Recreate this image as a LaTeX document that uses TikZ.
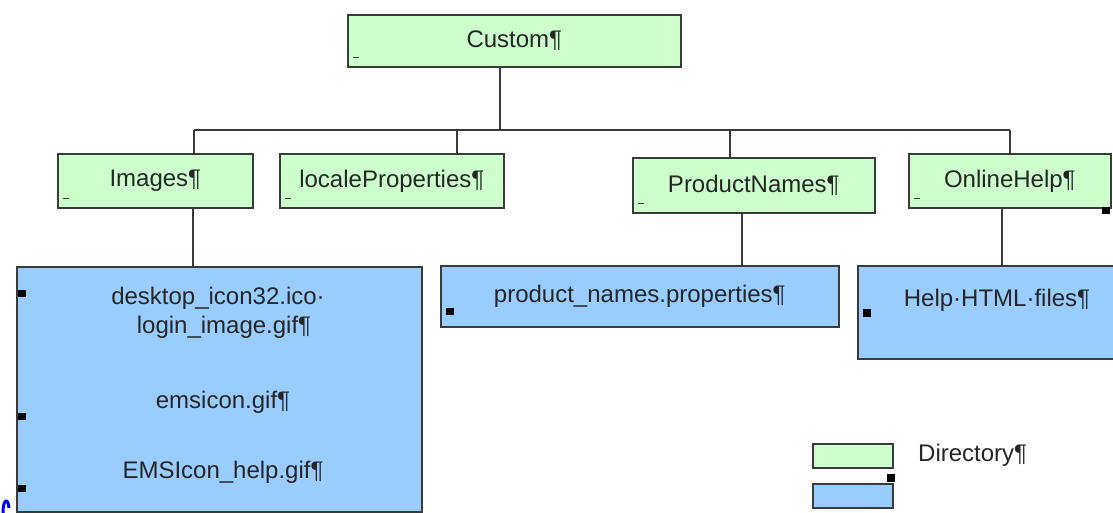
\documentclass[tikz,border=0pt]{standalone}
\usepackage{fontspec}
\setmainfont{Liberation Sans}
\definecolor{dirgreen}{HTML}{CCFFCC}
\definecolor{fileblue}{HTML}{99CCFF}
\definecolor{edgegray}{HTML}{3A3A3A}
\tikzset{
  box/.style={draw=edgegray, line width=1.6pt, inner sep=0pt, anchor=north west,
    text=black!85, font=\fontsize{24}{28}\selectfont},
  dirbox/.style={box, fill=dirgreen},
  filebox/.style={box, fill=fileblue},
  notched/.style={path picture={\draw [line width=1pt]
    ([shift={(5pt,9pt)}]path picture bounding box.south west) -- ++(6pt,0);}},
  txt/.style={text=black!85, font=\fontsize{24}{28}\selectfont, inner sep=0pt},
  link/.style={draw=edgegray, line width=1.6pt},
}
\begin{document}
\begin{tikzpicture}[x=1pt,y=-1pt]
\useasboundingbox (0,0) rectangle (1113,513);

\node [dirbox, notched, minimum width=333pt, minimum height=52pt] (custom) at (347,14) {Custom¶};

\node [dirbox, notched, minimum width=195pt, minimum height=54pt] (images) at (57,153) {Images¶};
\node [dirbox, notched, minimum width=224pt, minimum height=54pt] (locale) at (279,153) {localeProperties¶};
\node [dirbox, notched, minimum width=242pt, minimum height=55pt] (prodnames) at (632,157) {ProductNames¶};
\node [dirbox, notched, minimum width=202pt, minimum height=54pt] (onlinehelp) at (908,153) {OnlineHelp¶};

\node [filebox, minimum width=405pt, minimum height=245pt] (imgfiles) at (16,266) {};
\node [txt] (img1) at (218,298) {desktop\_icon32.ico·};
\node [txt] (img2) at (224,327) {login\_image.gif¶};
\node [txt] (img3) at (223,402) {emsicon.gif¶};
\node [txt] (img4) at (223,472) {EMSIcon\_help.gif¶};

\node [filebox, minimum width=398pt, minimum height=61pt] (propfile) at (440,265) {product\_names.properties¶};
\node [filebox, minimum width=280pt, minimum height=93pt] (helpfiles) at (857,265) {};
\node [txt] (helptext) at (997,300) {Help·HTML·files¶};

\coordinate (trunk) at (500,130);
\coordinate (busL) at (194,130);
\coordinate (busR) at (1010,130);
\coordinate (dropB) at (457,130);
\coordinate (dropC) at (730,130);
\draw [link] (trunk |- custom.south) -- (trunk);
\draw [link] (busL) -- (busR);
\draw [link] (busL) -- (busL |- images.north);
\draw [link] (dropB) -- (dropB |- locale.north);
\draw [link] (dropC) -- (dropC |- prodnames.north);
\draw [link] (busR) -- (busR |- onlinehelp.north);

\coordinate (stemA) at (193,240);
\coordinate (stemC) at (742,240);
\coordinate (stemD) at (1002,240);
\draw [link] (stemA |- images.south) -- (stemA |- imgfiles.north);
\draw [link] (stemC |- prodnames.south) -- (stemC |- propfile.north);
\draw [link] (stemD |- onlinehelp.south) -- (stemD |- helpfiles.north);

\fill (18,290) rectangle (26,297);
\fill (18,413) rectangle (26,420);
\fill (18,485) rectangle (26,492);
\fill (446,308) rectangle (454,315);
\fill (863,309) rectangle (871,317);
\fill (1102,207) rectangle (1110,214);

\node [dirbox, minimum width=80pt, minimum height=24pt] (legdir) at (812,443) {};
\node [filebox, minimum width=80pt, minimum height=24pt] (legfile) at (812,483) {};
\fill (887,474) rectangle (895,482);
\node [txt, anchor=west] (legtext) at (918,455) {Directory¶};

\draw [blue, line width=3pt] (3,513) .. controls (3,499) and (8,497) .. (9,508);
\end{tikzpicture}
\end{document}
